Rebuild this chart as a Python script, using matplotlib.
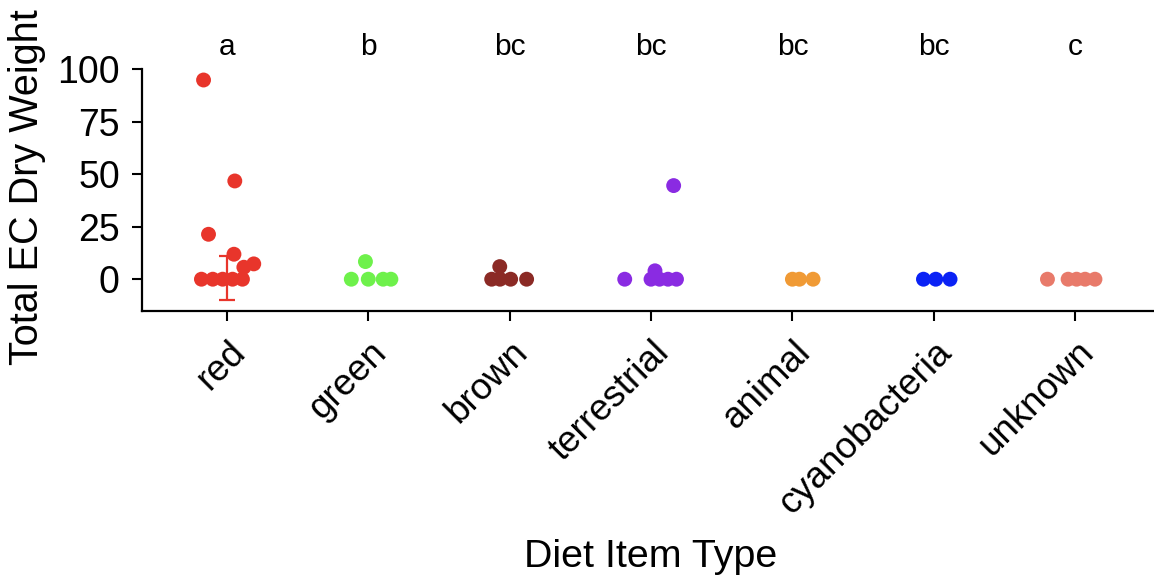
import matplotlib
matplotlib.use("Agg")
import matplotlib.pyplot as plt

plt.rcParams["font.family"] = ["Liberation Sans", "DejaVu Sans"]

# diet item categories and the compact-letter groups above each
categories = ["red", "green", "brown", "terrestrial", "animal", "cyanobacteria", "unknown"]
letters = ["a", "b", "bc", "bc", "bc", "bc", "c"]
colors = ["#E8352B", "#6EF14B", "#8B2A25", "#8A2BE2", "#F09A35", "#0A22F5", "#E87A6A"]

# total EC dry weight per sample, and the horizontal jitter used when plotting
values = [
    [94.9, 46.8, 21.4, 11.9, 7.3, 5.7, 0, 0, 0, 0, 0],
    [8.4, 0, 0, 0, 0],
    [6.0, 0, 0, 0, 0],
    [44.6, 4.0, 0, 0, 0, 0, 0],
    [0, 0, 0],
    [0, 0, 0],
    [0, 0, 0, 0, 0],
]
jitter = [
    [-0.165, 0.056, -0.13, 0.05, 0.19, 0.12, -0.18, -0.10, -0.03, 0.04, 0.11],
    [-0.02, -0.12, 0.0, 0.105, 0.16],
    [-0.07, -0.127, -0.068, 0.007, 0.12],
    [0.16, 0.028, -0.186, 0.0, 0.06, 0.12, 0.18],
    [0.0, 0.05, 0.146],
    [-0.073, 0.014, 0.115],
    [-0.196, -0.05, 0.01, 0.07, 0.14],
]

# error bar for the red group
err_lo = -9.9
err_hi = 11.2

fig = plt.figure(figsize=(11.54, 5.76), dpi=100)
ax = fig.add_axes([0.1231, 0.4601, 0.8821, 0.4201])

for i, (vals, jit, col) in enumerate(zip(values, jitter, colors)):
    xs = [i + 1 + j for j in jit]
    ax.scatter(xs, vals, s=115, color=col, edgecolors="none", zorder=3)

ax.errorbar([1], [(err_lo + err_hi) / 2], yerr=[[(err_hi - err_lo) / 2], [(err_hi - err_lo) / 2]],
            fmt="none", ecolor=colors[0], elinewidth=1.6, capsize=5.5, capthick=1.6, zorder=4)

ax.set_xlim(0.4, 7.6)
ax.set_ylim(-15.14, 100.14)
ax.set_yticks([0, 25, 50, 75, 100])
ax.set_xticks(range(1, len(categories) + 1))
ax.set_xticklabels([])

for side in ["top", "right"]:
    ax.spines[side].set_visible(False)
for side in ["left", "bottom"]:
    ax.spines[side].set_linewidth(1.6)
ax.tick_params(axis="both", length=7, width=1.5, colors="black")
ax.tick_params(axis="y", labelsize=27, pad=9)

# rotated category labels
for i, cat in enumerate(categories):
    ax.annotate(cat, xy=(i + 1, 0), xycoords=("data", "axes fraction"),
                xytext=(0.5, -17), textcoords="offset points",
                rotation=45, ha="right", va="top", rotation_mode="anchor",
                fontsize=26.5)

# significance letters
for i, lab in enumerate(letters):
    ax.text(i + 1, 107.0, lab, ha="center", va="baseline", fontsize=21.5, clip_on=False)

fig.text(27.5 / 1154, 1 - 187 / 576, "Total EC Dry Weight", rotation=90,
         ha="center", va="center", fontsize=28.5)
fig.text(651 / 1154, (576 - 566.7) / 576, "Diet Item Type",
         ha="center", va="baseline", fontsize=28.4)

fig.savefig("out.png", dpi=100, facecolor="white")
